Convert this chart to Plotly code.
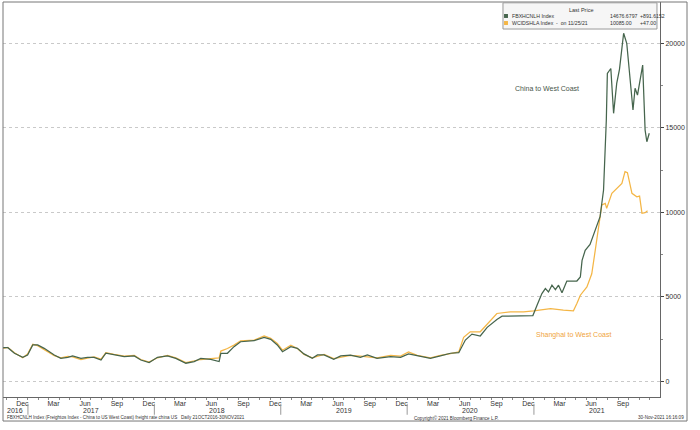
import plotly.graph_objects as go
import pandas as pd

# ---------------- data ----------------
fbx_dates = [
    "2016-10-21", "2016-11-04", "2016-11-23", "2016-12-17", "2016-12-31", "2017-01-15", "2017-01-29",
    "2017-02-17", "2017-03-18", "2017-04-06", "2017-04-26", "2017-05-10", "2017-06-03", "2017-06-22",
    "2017-07-11", "2017-07-31", "2017-08-14", "2017-09-07", "2017-10-06", "2017-11-04", "2017-11-23",
    "2017-12-17", "2018-01-10", "2018-02-08", "2018-03-04", "2018-04-02", "2018-04-26", "2018-05-15",
    "2018-06-13", "2018-07-07", "2018-07-12", "2018-07-31", "2018-08-19", "2018-09-07", "2018-10-16",
    "2018-11-14", "2018-12-03", "2018-12-22", "2019-01-06", "2019-01-30", "2019-02-18", "2019-03-09",
    "2019-04-02", "2019-04-17", "2019-05-06", "2019-06-03", "2019-06-23", "2019-07-21", "2019-08-19",
    "2019-09-08", "2019-10-06", "2019-11-14", "2019-12-13", "2020-01-05", "2020-01-30", "2020-03-08",
    "2020-04-06", "2020-05-05", "2020-05-29", "2020-06-17", "2020-07-06", "2020-07-30", "2020-08-19",
    "2020-09-16", "2020-10-01", "2020-11-13", "2020-12-29", "2021-01-10", "2021-01-19", "2021-01-24",
    "2021-02-03", "2021-02-12", "2021-02-22", "2021-03-04", "2021-03-13", "2021-03-23", "2021-04-01",
    "2021-04-06", "2021-05-05", "2021-05-15", "2021-05-20", "2021-05-29", "2021-06-12", "2021-06-27",
    "2021-07-11", "2021-07-21", "2021-07-29", "2021-08-01", "2021-08-11", "2021-08-19", "2021-08-28",
    "2021-09-05", "2021-09-17", "2021-09-26", "2021-10-14", "2021-10-20", "2021-10-27", "2021-11-11",
    "2021-11-18", "2021-11-23", "2021-11-30",
]
fbx_values = [
    2000, 2000, 1670, 1430, 1570, 2160, 2160,
    1960, 1570, 1370, 1430, 1510, 1370, 1430,
    1430, 1270, 1670, 1570, 1470, 1510, 1270,
    1120, 1430, 1510, 1370, 1080, 1180, 1370,
    1310, 1180, 1670, 1670, 2060, 2350, 2410,
    2610, 2490, 2160, 1760, 2060, 1960, 1630,
    1370, 1570, 1570, 1310, 1510, 1560, 1430,
    1570, 1370, 1470, 1430, 1630, 1510, 1370,
    1510, 1670, 1700, 2450, 2800, 2690, 3200,
    3670, 3860, 3860, 3900, 4510, 4900, 5200,
    5490, 5290, 5690, 5430, 5690, 5240, 5690,
    5940, 5940, 6180, 7160, 7750, 8100, 8900,
    9740, 11320, 15450, 18210, 18500, 15850, 17620,
    18450, 20580, 19990, 16050, 17330, 16930, 18700,
    14860, 14170, 14670,
]

wci_dates = [
    "2016-10-21", "2016-11-04", "2016-11-23", "2016-12-17", "2016-12-31", "2017-01-15", "2017-01-29",
    "2017-02-17", "2017-03-18", "2017-04-06", "2017-04-26", "2017-05-10", "2017-06-03", "2017-06-22",
    "2017-07-11", "2017-07-31", "2017-08-14", "2017-09-07", "2017-10-06", "2017-11-04", "2017-11-23",
    "2017-12-17", "2018-01-10", "2018-02-08", "2018-03-04", "2018-04-02", "2018-04-26", "2018-05-15",
    "2018-06-13", "2018-07-07", "2018-07-12", "2018-07-31", "2018-08-19", "2018-09-07", "2018-10-16",
    "2018-11-14", "2018-12-03", "2018-12-22", "2019-01-06", "2019-01-30", "2019-02-18", "2019-03-09",
    "2019-04-02", "2019-04-17", "2019-05-06", "2019-06-03", "2019-06-23", "2019-07-21", "2019-08-19",
    "2019-09-08", "2019-10-06", "2019-11-14", "2019-12-13", "2020-01-05", "2020-01-30", "2020-03-08",
    "2020-04-06", "2020-05-05", "2020-05-29", "2020-06-12", "2020-07-01", "2020-07-30", "2020-08-28",
    "2020-09-16", "2020-10-25", "2020-12-02", "2020-12-31", "2021-02-18", "2021-03-27", "2021-04-25",
    "2021-05-05", "2021-05-15", "2021-06-03", "2021-06-17", "2021-06-27", "2021-07-09", "2021-07-16",
    "2021-07-26", "2021-07-30", "2021-08-14", "2021-09-02", "2021-09-12", "2021-09-21", "2021-09-28",
    "2021-10-11", "2021-10-25", "2021-11-02", "2021-11-09", "2021-11-18", "2021-11-25",
]
wci_values = [
    1950, 2020, 1700, 1400, 1620, 2200, 2120,
    1900, 1530, 1400, 1480, 1450, 1300, 1380,
    1450, 1320, 1700, 1600, 1500, 1550, 1300,
    1150, 1400, 1550, 1400, 1120, 1220, 1300,
    1350, 1400, 1800, 1950, 2150, 2400, 2450,
    2700, 2550, 2250, 1850, 2150, 1950, 1600,
    1400, 1500, 1600, 1350, 1450, 1550, 1500,
    1450, 1400, 1550, 1500, 1750, 1550, 1400,
    1550, 1650, 1750, 2610, 2940, 2940, 3630,
    4020, 4120, 4120, 4180, 4310, 4220, 4180,
    4610, 5100, 5590, 6370, 7750, 9650, 10430,
    10530, 10230, 11120, 11510, 11710, 12400, 12340,
    11120, 10920, 10960, 9940, 9980, 10085,
]

month_tick_dates = ["2016-12-16", "2017-03-16", "2017-06-15", "2017-09-15", "2017-12-16",
                    "2018-03-16", "2018-06-15", "2018-09-15", "2018-12-16", "2019-03-16",
                    "2019-06-15", "2019-09-15", "2019-12-16", "2020-03-16", "2020-06-15",
                    "2020-09-15", "2020-12-16", "2021-03-16", "2021-06-15", "2021-09-15"]
month_tick_text = ["Dec", "Mar", "Jun", "Sep", "Dec", "Mar", "Jun", "Sep", "Dec", "Mar",
                   "Jun", "Sep", "Dec", "Mar", "Jun", "Sep", "Dec", "Mar", "Jun", "Sep"]
years = [2016, 2017, 2018, 2019, 2020, 2021]
y_ticks = [0, 5000, 10000, 15000, 20000]

x_start, x_end = "2016-10-21", "2021-12-31"
y_min, y_max = -916, 22430

GREEN = "#46654d"
ORANGE = "#f4b646"
FONT = "Liberation Sans"

fig = go.Figure()
fig.add_trace(go.Scatter(x=wci_dates, y=wci_values, mode="lines",
                         line=dict(color=ORANGE, width=1.25), name="WCIDSHLA Index"))
fig.add_trace(go.Scatter(x=fbx_dates, y=fbx_values, mode="lines",
                         line=dict(color=GREEN, width=1.25), name="FBXHCNLH Index"))

fig.update_layout(
    width=700, height=430,
    margin=dict(l=3, r=40, t=2, b=33, autoexpand=False),
    paper_bgcolor="white", plot_bgcolor="white",
    showlegend=False,
    font=dict(family=FONT, size=7, color="#333"),
)
fig.update_xaxes(
    type="date", range=[x_start, x_end], automargin=False,
    tickvals=month_tick_dates, ticktext=month_tick_text,
    ticks="", showgrid=False, showline=True, linecolor="#666", linewidth=1,
    tickfont=dict(size=7, color="#333"), ticklabelstandoff=0,
    minor=dict(ticks="outside", dtick="M1", tick0="2016-11-01", ticklen=2, tickcolor="#888", showgrid=False),
)
fig.update_yaxes(
    side="right", range=[y_min, y_max], tickvals=y_ticks, tickformat="d", automargin=False,
    showgrid=True, gridcolor="#c9c9c9", griddash="dot", gridwidth=1,
    zeroline=False, showline=True, linecolor="#666", linewidth=1,
    ticks="outside", ticklen=3, tickcolor="#444",
    tickfont=dict(size=7, color="#333"),
    minor=dict(ticks="outside", dtick=2500, ticklen=2, tickcolor="#888", showgrid=False),
)

# year labels & separators
t0, t1 = pd.Timestamp(x_start), pd.Timestamp(x_end)
for yr in years:
    a = max(t0, pd.Timestamp(f"{yr}-01-01"))
    b = min(t1, pd.Timestamp(f"{yr}-12-31"))
    mid = a + (b - a) / 2
    fig.add_annotation(x=mid, y=-0.0345, xref="x", yref="paper", text=str(yr), xanchor="center",
                       showarrow=False, font=dict(size=7, color="#333"), yanchor="middle")
    if yr > years[0]:
        fig.add_shape(type="line", x0=f"{yr}-01-01", x1=f"{yr}-01-01", xref="x", yref="paper",
                      y0=-0.018, y1=-0.045, line=dict(color="#999", width=1))

# outer frame
fig.add_shape(type="rect", xref="paper", yref="paper", x0=0, x1=1.0411, y0=-0.0608, y1=1.0,
              line=dict(color="#777", width=1), fillcolor="rgba(0,0,0,0)", layer="above")

# footer
fig.add_annotation(x=0.003, y=-0.052, xref="paper", yref="paper", xanchor="left", yanchor="middle",
                   text="FBXHCNLH Index (Freightos Index - China to US West Coast) freight rate china US   Daily 21OCT2016-30NOV2021",
                   showarrow=False, font=dict(size=4.6, color="#333"))
fig.add_annotation(x=0.691, y=-0.052, xref="paper", yref="paper", xanchor="center", yanchor="middle",
                   text="Copyright\u00a9 2021 Bloomberg Finance L.P.", showarrow=False,
                   font=dict(size=4.6, color="#333"))
fig.add_annotation(x=1.039, y=-0.052, xref="paper", yref="paper", xanchor="right", yanchor="middle",
                   text="30-Nov-2021 16:16:09", showarrow=False, font=dict(size=4.6, color="#333"))

# series labels
fig.add_annotation(x=0.828, y=0.780, xref="paper", yref="paper", text="China to West Coast",
                   xanchor="center", yanchor="middle",
                   showarrow=False, font=dict(size=7, color="#46554a"))
fig.add_annotation(x=0.869, y=0.157, xref="paper", yref="paper", text="Shanghai to West Coast",
                   xanchor="center", yanchor="middle",
                   showarrow=False, font=dict(size=7, color="#f0a43c"))

# legend box
fig.add_shape(type="rect", xref="paper", yref="paper", x0=0.761, x1=0.9954, y0=0.9316, y1=0.998,
              line=dict(color="#9a9a9a", width=1), fillcolor="#f6f6f6", layer="above")
fig.add_annotation(x=0.880, y=0.980, xref="paper", yref="paper", text="Last Price", showarrow=False,
                   font=dict(size=5.5, color="#333"), xanchor="center", yanchor="middle")
rows = [
    (GREEN, "FBXHCNLH Index", "14676.6797", "+891.6152", 0.9646),
    (ORANGE, "WCIDSHLA Index  -  on 11/25/21", "10085.00", "+47.00", 0.9468),
]
for col, nm, val, chg, yy in rows:
    fig.add_shape(type="rect", xref="paper", yref="paper", x0=0.7626, x1=0.7686, y0=yy - 0.005, y1=yy + 0.005,
                  line=dict(width=0), fillcolor=col, layer="above")
    fig.add_annotation(x=0.7717, y=yy, xref="paper", yref="paper", xanchor="left", yanchor="middle",
                       text=nm, showarrow=False, font=dict(size=5.2, color="#333"))
    fig.add_annotation(x=0.921, y=yy, xref="paper", yref="paper", xanchor="left", yanchor="middle",
                       text=val, showarrow=False, font=dict(size=5.2, color="#333"))
    fig.add_annotation(x=0.9665, y=yy, xref="paper", yref="paper", xanchor="left", yanchor="middle",
                       text=chg, showarrow=False, font=dict(size=5.2, color="#333"))

fig.write_html("out.html", config={"displayModeBar": False},
               post_script="document.body.style.margin='0px';document.body.style.padding='0px';")
